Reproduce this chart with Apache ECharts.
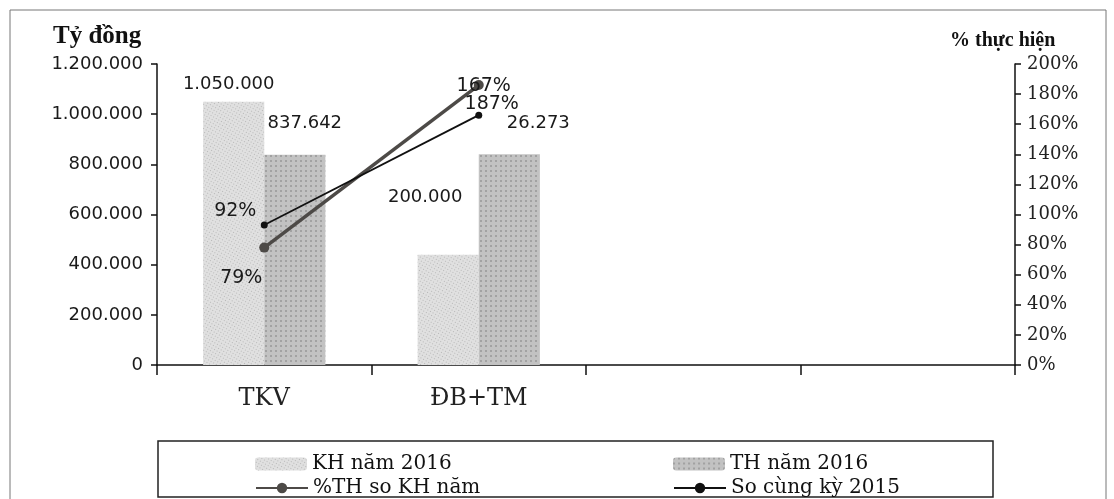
<!DOCTYPE html>
<html>
<head>
<meta charset="utf-8">
<script src="https://cdn.jsdelivr.net/npm/echarts@6/dist/echarts.min.js"></script>
<style>
html,body{margin:0;padding:0;background:#fff;}
#c{width:1114px;height:499px;}
</style>
</head>
<body>
<div id="c"></div>
<script>
const categories = ['TKV', 'ĐB+TM', '', ''];
const khValues = [1050000, 440000];
const thValues = [838000, 840000];
const khLabels = ['1.050.000', '200.000'];
const thLabels = ['837.642', '26.273'];
const thSoKhValues = [78, 186];
const thSoKhLabels = ['79%', '167%'];
const soCkValues = [93, 166];
const soCkLabels = ['92%', '187%'];
const leftAxisName = 'Tỷ đồng';
const rightAxisName = '% thực hiện';
const seriesNames = ['KH năm 2016', 'TH năm 2016', '%TH so KH năm', 'So cùng kỳ 2015'];

function dotFmt(v){ return String(v).replace(/\B(?=(\d{3})+(?!\d))/g, '.'); }

const khOffsets = [[-5, 0], [-23, -40]];
const thOffsets = [[10, -14], [29, -14]];
const thSoKhOffsets = [[-23, 30], [5, 1]];
const soCkOffsets = [[-29, -14], [13, -11]];

const numFont = {fontFamily: 'DejaVu Sans', fontSize: 18, color: '#1a1a1a'};
const pctFont = {fontFamily: 'DejaVu Sans', fontSize: 19, color: '#1a1a1a'};
const legFont = {fontFamily: 'DejaVu Serif', fontSize: 20, color: '#111'};
const noDecal = {symbol: 'rect', symbolSize: 1, color: 'rgba(0,0,0,0)'};

function barData(vals, labels, offs){
  return vals.map((v,i)=>({value:v, label:{show:true, position:'top', distance:8, offset:offs[i], formatter:labels[i]}}));
}
function lineData(vals, labels, offs){
  return vals.map((v,i)=>({value:v, label:{show:true, position:'inside', offset:offs[i], formatter:labels[i]}}));
}
function oneLegend(name, left, top){
  return {left: left, top: top, orient: 'horizontal', itemGap: 5, itemWidth: 52, itemHeight: 13,
          data: [name], textStyle: legFont};
}

const chart = echarts.init(document.getElementById('c'));
chart.setOption({
  animation: false,
  backgroundColor: '#fff',
  aria: {enabled: true, decal: {show: true}},
  grid: {left: 157, right: 99, top: 64, bottom: 134},
  xAxis: {
    type: 'category', data: categories,
    axisLine: {lineStyle: {color: '#111', width: 1.5}},
    axisTick: {show: true, length: 10, lineStyle: {color: '#111', width: 1.5}},
    axisLabel: {fontFamily: 'DejaVu Serif', fontSize: 24, color: '#222', margin: 22}
  },
  yAxis: [
    {type: 'value', min: 0, max: 1200000, interval: 200000,
     axisLine: {show: true, lineStyle: {color: '#111', width: 1.5}},
     axisTick: {show: true, length: 6, lineStyle: {color: '#111', width: 1.5}},
     splitLine: {show: false},
     axisLabel: Object.assign({margin: 14, formatter: dotFmt}, numFont)},
    {type: 'value', min: 0, max: 200, interval: 20, position: 'right',
     axisLine: {show: true, lineStyle: {color: '#111', width: 1.5}},
     axisTick: {show: true, length: 6, lineStyle: {color: '#111', width: 1.5}},
     splitLine: {show: false},
     axisLabel: {fontFamily: 'DejaVu Serif', fontSize: 18, color: '#222', margin: 12, formatter: '{value}%'}}
  ],
  legend: [
    oneLegend(seriesNames[0], 250, 449),
    oneLegend(seriesNames[2], 250, 473),
    oneLegend(seriesNames[1], 668, 449),
    oneLegend(seriesNames[3], 668, 473)
  ],
  graphic: [
    {type: 'rect', shape: {x: 10, y: 10, width: 1096, height: 500}, style: {fill: 'none', stroke: '#777', lineWidth: 1}, silent: true},
    {type: 'rect', shape: {x: 158, y: 441, width: 835, height: 56}, style: {fill: 'none', stroke: '#222', lineWidth: 1.5}, silent: true},
    {type: 'text', left: 53, top: 24, style: {text: leftAxisName, font: 'bold 25px "Liberation Serif"', fill: '#111'}},
    {type: 'text', left: 950, top: 31, style: {text: rightAxisName, font: 'bold 20px "Liberation Serif"', fill: '#111'}}
  ],
  series: [
    {name: seriesNames[0], type: 'bar', yAxisIndex: 0, barGap: '0%', barCategoryGap: '43%',
     itemStyle: {color: '#e0e0e0', decal: {symbol: 'rect', symbolSize: 1, dashArrayX: [1, 2], dashArrayY: [1, 2], color: 'rgba(110,110,110,0.35)'}},
     label: numFont,
     data: barData(khValues, khLabels, khOffsets)},
    {name: seriesNames[1], type: 'bar', yAxisIndex: 0,
     itemStyle: {color: '#c2c2c2', decal: {symbol: 'rect', symbolSize: 1, dashArrayX: [2, 3], dashArrayY: [2, 3], color: 'rgba(90,90,90,0.3)'}},
     label: numFont,
     data: barData(thValues, thLabels, thOffsets)},
    {name: seriesNames[2], type: 'line', yAxisIndex: 1, z: 5,
     symbol: 'circle', symbolSize: 10,
     lineStyle: {color: '#4d4a47', width: 3.5}, itemStyle: {color: '#4d4a47', decal: noDecal},
     label: pctFont,
     data: lineData(thSoKhValues, thSoKhLabels, thSoKhOffsets)},
    {name: seriesNames[3], type: 'line', yAxisIndex: 1, z: 6,
     symbol: 'circle', symbolSize: 7,
     lineStyle: {color: '#111', width: 1.8}, itemStyle: {color: '#111', decal: noDecal},
     label: pctFont,
     data: lineData(soCkValues, soCkLabels, soCkOffsets)}
  ]
});
</script>
</body>
</html>
